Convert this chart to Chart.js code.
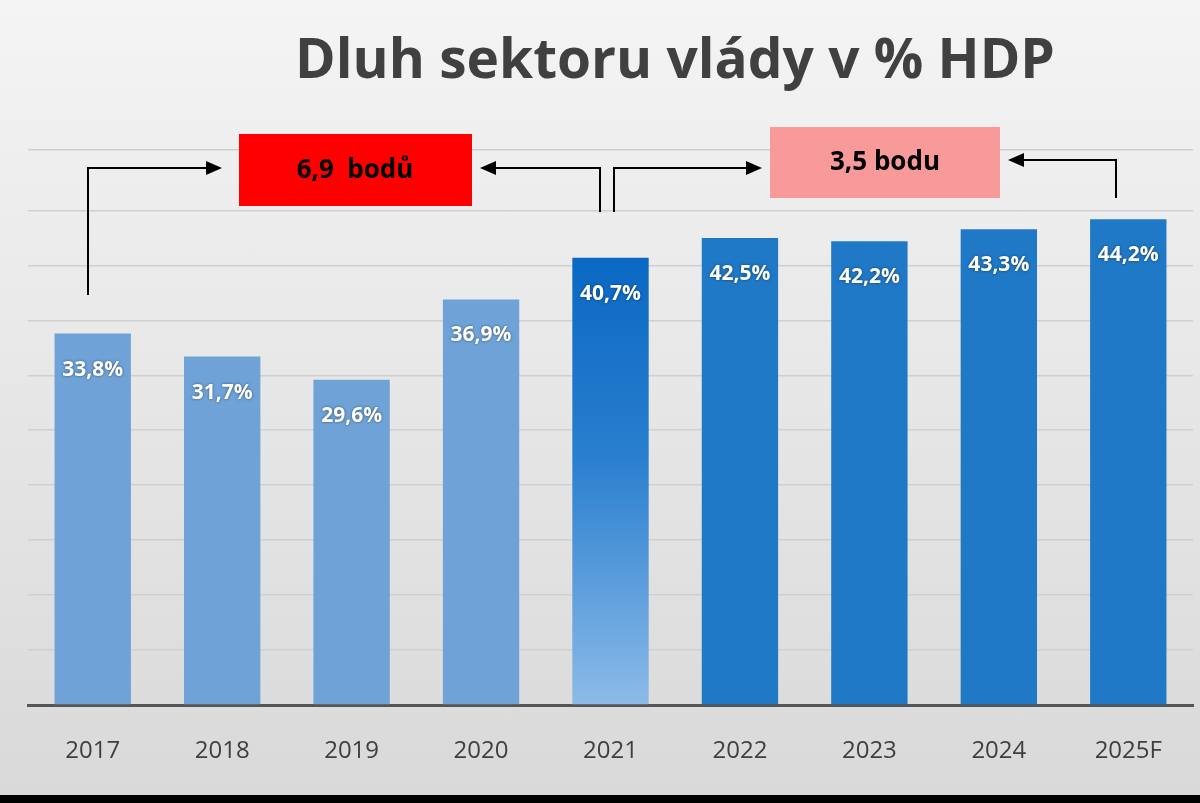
<!DOCTYPE html><html><head><meta charset="utf-8">
<script src="https://cdn.jsdelivr.net/npm/chart.js@4"></script>
<style>html,body{margin:0;padding:0;background:#000}#w{width:1200px;height:795px;background:linear-gradient(#f4f4f4,#d9d9d9)}</style>
</head><body><div id="w"><canvas id="c" width="1200" height="795"></canvas></div>
<script>
const categories=["2017","2018","2019","2020","2021","2022","2023","2024","2025F"];
const values=[33.8,31.7,29.6,36.9,40.7,42.5,42.2,43.3,44.2];
const labels=["33,8%","31,7%","29,6%","36,9%","40,7%","42,5%","42,2%","43,3%","44,2%"];
const title="Dluh sektoru vlády v % HDP";
const deco={
 id:'deco',
 afterDatasetsDraw(ch){
  const c=ch.ctx,m=ch.getDatasetMeta(0);
  c.save();
  c.fillStyle='#fff';c.font='bold 21px "Open Sans"';c.textAlign='center';
  c.shadowColor='rgba(0,0,0,0.5)';c.shadowBlur=3;
  m.data.forEach((b,i)=>c.fillText(labels[i],b.x,b.y+42));
  c.restore();
  c.save();
  c.fillStyle='#404040';c.font='bold 55px "Open Sans"';c.textAlign='center';c.textBaseline='middle';
  c.fillText(title,675,62);
  c.fillStyle='#ff0000';c.fillRect(239,134,233,72);
  c.fillStyle='#f99a9a';c.fillRect(770,127,230,71);
  c.fillStyle='#000';c.font='bold 26px "Open Sans"';
  c.fillText("6,9  bodů",355,171);c.fillText("3,5 bodu",885,163);
  c.strokeStyle='#000';c.lineWidth=2;
  function arr(pts){c.beginPath();c.moveTo(pts[0][0],pts[0][1]);for(const p of pts.slice(1))c.lineTo(p[0],p[1]);c.stroke();
   const [a,b]=[pts[pts.length-2],pts[pts.length-1]];const d=Math.sign(b[0]-a[0]);
   c.beginPath();c.moveTo(b[0]+d*10,b[1]);c.lineTo(b[0]-d*6,b[1]-7);c.lineTo(b[0]-d*6,b[1]+7);c.closePath();c.fill();}
  arr([[88,295],[88,168],[212,168]]);
  arr([[600,212],[600,168],[490,168]]);
  arr([[614,212],[614,168],[752,168]]);
  arr([[1116,198],[1116,160],[1018,160]]);
  c.restore();
 }};
new Chart(document.getElementById('c'),{type:'bar',
 data:{labels:categories,datasets:[{data:values,barPercentage:0.59,categoryPercentage:1,
  backgroundColor:(ctx)=>{const i=ctx.dataIndex;if(i<4)return '#6fa3d8';if(i>4)return '#2079c7';
   const a=ctx.chart.chartArea;if(!a)return '#2079c7';const g=ctx.chart.ctx.createLinearGradient(0,258,0,705);
   g.addColorStop(0,'#0a68c3');g.addColorStop(0.45,'#2a7fcf');g.addColorStop(1,'#8cbbe8');return g;}}]},
 options:{responsive:false,animation:false,
  layout:{padding:{top:150,left:28,right:7,bottom:0}},
  plugins:{legend:{display:false},tooltip:{enabled:false}},
  scales:{
   x:{grid:{display:false},border:{color:'#555',width:3},ticks:{color:'#404040',font:{family:'Open Sans',size:24},padding:24},afterFit:s=>{s.height=90}},
   y:{min:0,max:50.5,ticks:{display:false,stepSize:5},grid:{color:'#cfcfcf',lineWidth:1.5,drawTicks:false},border:{display:false},afterFit:s=>{s.width=0}}
  }},
 plugins:[deco]});
</script></body></html>
